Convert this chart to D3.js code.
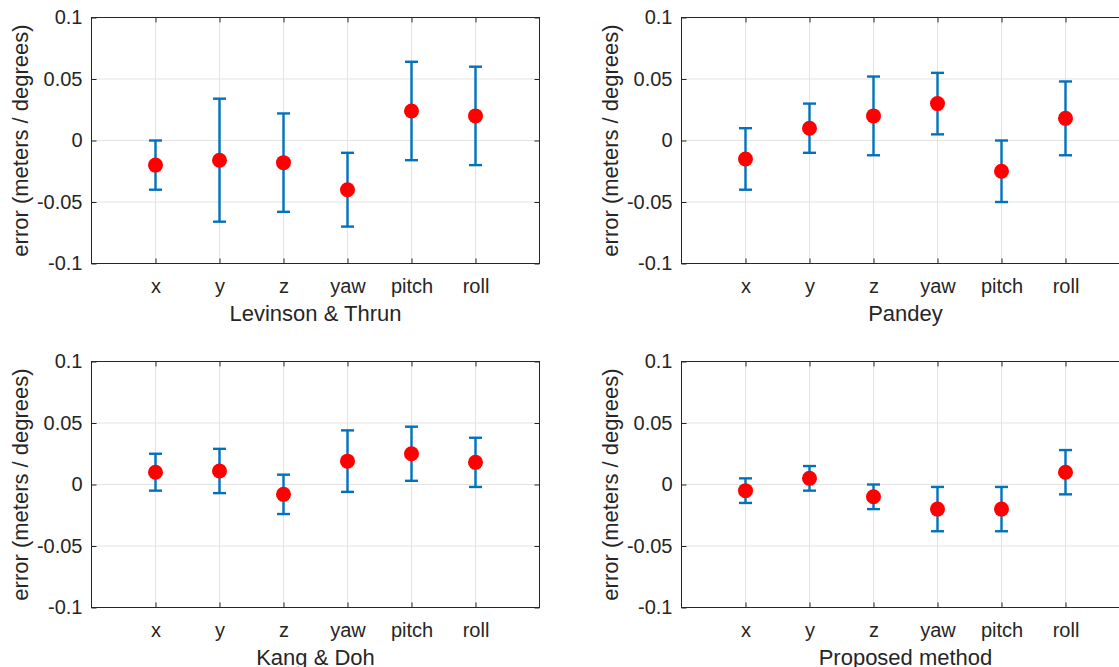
<!DOCTYPE html>
<html>
<head>
<meta charset="utf-8">
<script src="https://cdn.jsdelivr.net/npm/d3@7"></script>
<style>
  html, body { margin: 0; padding: 0; background: #fff; }
  svg { display: block; }
  text { font-family: "Liberation Sans", Arial, Helvetica, sans-serif; fill: #262626; }
</style>
</head>
<body>
<svg id="chart" width="1119" height="667"></svg>
<script>
// Pose components on the x axis
const categories = ["x", "y", "z", "yaw", "pitch", "roll"];
const yTicks = [-0.1, -0.05, 0, 0.05, 0.1];
const yTickLabels = ["-0.1", "-0.05", "0", "0.05", "0.1"];
const yLabel = "error (meters / degrees)";

// Method names (one panel each)
const methods = ["Levinson & Thrun", "Pandey", "Kang & Doh", "Proposed method"];

// Mean error per component
const meanLevinson = [-0.020, -0.016, -0.018, -0.040, 0.024, 0.020];
const meanPandey   = [-0.015, 0.010, 0.020, 0.030, -0.025, 0.018];
const meanKang     = [0.010, 0.011, -0.008, 0.019, 0.025, 0.018];
const meanProposed = [-0.005, 0.005, -0.010, -0.020, -0.020, 0.010];

// Half-length of each error bar
const errLevinson = [0.020, 0.050, 0.040, 0.030, 0.040, 0.040];
const errPandey   = [0.025, 0.020, 0.032, 0.025, 0.025, 0.030];
const errKang     = [0.015, 0.018, 0.016, 0.025, 0.022, 0.020];
const errProposed = [0.010, 0.010, 0.010, 0.018, 0.018, 0.018];

const means = [meanLevinson, meanPandey, meanKang, meanProposed];
const errs = [errLevinson, errPandey, errKang, errProposed];

const svg = d3.select("#chart");

// Panel frames: left, top (width and height shared)
const panelW = 448, panelH = 246;
const frames = [
  { x: 91.5, y: 17.5 },
  { x: 681.5, y: 17.5 },
  { x: 91.5, y: 361.5 },
  { x: 681.5, y: 361.5 }
];

const blue = "#0072BD";
const red = "#FF0000";
const axisCol = "#262626";
const gridCol = "#e3e3e3";

methods.forEach((name, p) => {
  const f = frames[p];
  const g = svg.append("g").attr("transform", `translate(${f.x},${f.y})`);

  const x = d3.scaleLinear().domain([0, 7]).range([0, panelW]);
  const y = d3.scaleLinear().domain([-0.1, 0.1]).range([panelH, 0]);
  const xVals = categories.map((c, i) => i + 1);

  // grid
  g.append("g").selectAll("line").data(xVals).join("line")
    .attr("x1", d => x(d)).attr("x2", d => x(d))
    .attr("y1", 0).attr("y2", panelH)
    .attr("stroke", gridCol).attr("stroke-width", 1);
  g.append("g").selectAll("line").data(yTicks).join("line")
    .attr("y1", d => y(d)).attr("y2", d => y(d))
    .attr("x1", 0).attr("x2", panelW)
    .attr("stroke", gridCol).attr("stroke-width", 1);

  // axes: left and bottom carry labels, right and top only inward ticks
  const tickLen = 5;
  const leftAxis = d3.axisLeft(y).tickValues(yTicks)
    .tickFormat((d, i) => yTickLabels[i]).tickSizeInner(-tickLen).tickSizeOuter(0).tickPadding(9);
  const bottomAxis = d3.axisBottom(x).tickValues(xVals)
    .tickFormat((d, i) => categories[i]).tickSizeInner(-tickLen).tickSizeOuter(0).tickPadding(15);
  const rightAxis = d3.axisRight(y).tickValues(yTicks).tickFormat("").tickSizeInner(-tickLen).tickSizeOuter(0);
  const topAxis = d3.axisTop(x).tickValues(xVals).tickFormat("").tickSizeInner(-tickLen).tickSizeOuter(0);

  const styleAxis = sel => {
    sel.select(".domain").remove();
    sel.selectAll("line").attr("stroke", axisCol).attr("stroke-width", 1);
    sel.selectAll("text").style("font-size", "20px").attr("fill", axisCol)
      .style("font-family", '"Liberation Sans", Arial, sans-serif');
  };

  g.append("g").call(leftAxis).call(styleAxis);
  g.append("g").attr("transform", `translate(0,${panelH})`).call(bottomAxis).call(styleAxis);
  g.append("g").attr("transform", `translate(${panelW},0)`).call(rightAxis).call(styleAxis);
  g.append("g").call(topAxis).call(styleAxis);

  g.append("rect").attr("x", 0).attr("y", 0).attr("width", panelW).attr("height", panelH)
    .attr("fill", "none").attr("stroke", axisCol).attr("stroke-width", 1);

  // error bars
  const capW = 6.5;
  const rows = categories.map((c, i) => ({ x: i + 1, m: means[p][i], e: errs[p][i] }));
  const eb = g.append("g").attr("stroke", blue).attr("stroke-width", 2.4).attr("fill", "none");
  eb.selectAll("line.v").data(rows).join("line").attr("class", "v")
    .attr("x1", d => x(d.x)).attr("x2", d => x(d.x))
    .attr("y1", d => y(d.m - d.e)).attr("y2", d => y(d.m + d.e));
  eb.selectAll("line.t").data(rows).join("line").attr("class", "t")
    .attr("x1", d => x(d.x) - capW).attr("x2", d => x(d.x) + capW)
    .attr("y1", d => y(d.m + d.e)).attr("y2", d => y(d.m + d.e));
  eb.selectAll("line.b").data(rows).join("line").attr("class", "b")
    .attr("x1", d => x(d.x) - capW).attr("x2", d => x(d.x) + capW)
    .attr("y1", d => y(d.m - d.e)).attr("y2", d => y(d.m - d.e));

  // mean markers
  g.append("g").selectAll("circle").data(rows).join("circle")
    .attr("cx", d => x(d.x)).attr("cy", d => y(d.m)).attr("r", 7.5)
    .attr("fill", red);

  // axis titles
  g.append("text").attr("x", panelW / 2).attr("y", panelH + 57)
    .attr("text-anchor", "middle").style("font-size", "22px").text(name);
  g.append("text")
    .attr("transform", `translate(${-64},${panelH / 2}) rotate(-90)`)
    .attr("text-anchor", "middle").style("font-size", "22px").text(yLabel);
});
</script>
</body>
</html>
